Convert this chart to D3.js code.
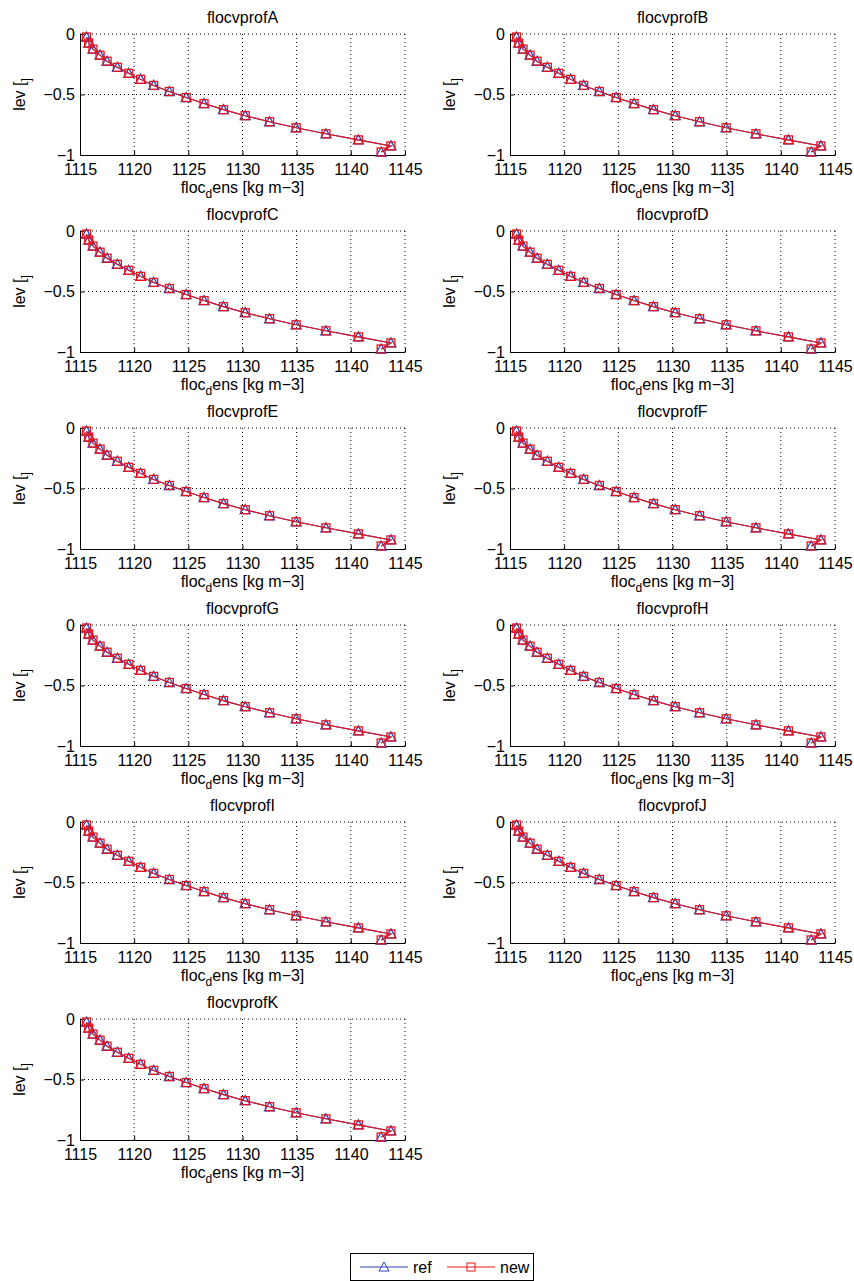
<!DOCTYPE html>
<html>
<head>
<meta charset="utf-8">
<script src="https://cdn.jsdelivr.net/npm/d3@7"></script>
<style>
  body { margin: 0; background: #fff; }
  svg { font-family: "Liberation Sans", Arial, sans-serif; }
</style>
</head>
<body>
<div id="chart"></div>
<script>
var width = 854;
var height = 1281;

var panels = ["flocvprofA", "flocvprofB", "flocvprofC", "flocvprofD", "flocvprofE",
              "flocvprofF", "flocvprofG", "flocvprofH", "flocvprofI", "flocvprofJ", "flocvprofK"];

// model levels (sigma), top to bottom
var lev = [-0.025, -0.075, -0.125, -0.175, -0.225, -0.275, -0.325, -0.375, -0.425, -0.475,
           -0.525, -0.575, -0.625, -0.675, -0.725, -0.775, -0.825, -0.875, -0.925, -0.975];

var refDens = [1115.6, 1115.8, 1116.2, 1116.85, 1117.5, 1118.45, 1119.5, 1120.6, 1121.8, 1123.25,
               1124.8, 1126.45, 1128.25, 1130.25, 1132.5, 1134.95, 1137.7, 1140.7, 1143.7, 1142.8];
var newDens = [1115.6, 1115.8, 1116.2, 1116.85, 1117.5, 1118.45, 1119.5, 1120.6, 1121.8, 1123.25,
               1124.8, 1126.45, 1128.25, 1130.25, 1132.5, 1134.95, 1137.7, 1140.7, 1143.7, 1142.8];

var xTicks = [1115, 1120, 1125, 1130, 1135, 1140, 1145];
var yTicks = [0, -0.5, -1];

var blue = "#2a44b8";
var red = "#e8141c";

var colLeft = [80, 510];
var pw = 325, ph = 121;
var rowTop = 34, rowStep = 197;

var svg = d3.select("#chart")
            .append("svg")
            .attr("width", width)
            .attr("height", height);

var x = d3.scaleLinear().domain([1115, 1145]).range([0, pw]);
var y = d3.scaleLinear().domain([-1, 0]).range([ph, 0]);

var line = d3.line()
    .x(function(d) { return x(d[0]); })
    .y(function(d) { return y(d[1]); });

function triangle(g, pts) {
    g.selectAll("path.tri")
        .data(pts)
        .enter()
        .append("path")
        .attr("class", "tri")
        .attr("d", function(d) {
            var cx = x(d[0]), cy = y(d[1]);
            return "M" + cx + "," + (cy - 5) + "L" + (cx + 5) + "," + (cy + 4) + "L" + (cx - 5) + "," + (cy + 4) + "Z";
        })
        .attr("fill", "none")
        .attr("stroke", blue)
        .attr("stroke-width", 1.3);
}

function squares(g, pts) {
    g.selectAll("rect.sq")
        .data(pts)
        .enter()
        .append("rect")
        .attr("class", "sq")
        .attr("x", function(d) { return x(d[0]) - 4; })
        .attr("y", function(d) { return y(d[1]) - 4; })
        .attr("width", 8)
        .attr("height", 8)
        .attr("fill", "none")
        .attr("stroke", red)
        .attr("stroke-width", 1.3);
}

panels.forEach(function(name, i) {
    var col = i % 2, row = Math.floor(i / 2);
    var g = svg.append("g")
        .attr("transform", "translate(" + colLeft[col] + "," + (rowTop + row * rowStep) + ")");

    // dotted grid
    g.selectAll("line.gx")
        .data(xTicks.slice(1))
        .enter()
        .append("line")
        .attr("x1", function(d) { return x(d); })
        .attr("x2", function(d) { return x(d); })
        .attr("y1", 0).attr("y2", ph)
        .attr("stroke", "#000")
        .attr("stroke-width", 1)
        .attr("stroke-dasharray", "1,3");
    g.selectAll("line.gy")
        .data(yTicks.slice(0, 2))
        .enter()
        .append("line")
        .attr("x1", 0).attr("x2", pw)
        .attr("y1", function(d) { return y(d); })
        .attr("y2", function(d) { return y(d); })
        .attr("stroke", "#000")
        .attr("stroke-width", 1)
        .attr("stroke-dasharray", "1,3");

    var xa = g.append("g")
        .attr("transform", "translate(0," + ph + ")")
        .call(d3.axisBottom(x).tickValues(xTicks).tickFormat(d3.format("d"))
              .tickSizeInner(-4).tickSizeOuter(0).tickPadding(9));
    var ya = g.append("g")
        .call(d3.axisLeft(y).tickValues(yTicks).tickFormat(d3.format("~g"))
              .tickSizeInner(-4).tickSizeOuter(0).tickPadding(5));
    [xa, ya].forEach(function(a) {
        a.attr("font-size", null).attr("font-family", null);
        a.selectAll("text").style("font-size", "16px").attr("fill", "#000");
        a.selectAll("path, line").attr("stroke", "#000");
    });

    var refPts = refDens.map(function(v, k) { return [v, lev[k]]; });
    var newPts = newDens.map(function(v, k) { return [v, lev[k]]; });

    g.append("path").attr("d", line(refPts))
        .attr("fill", "none").attr("stroke", blue).attr("stroke-width", 1.1);
    triangle(g, refPts);
    g.append("path").attr("d", line(newPts))
        .attr("fill", "none").attr("stroke", red).attr("stroke-width", 1.1);
    squares(g, newPts);

    g.append("text")
        .attr("x", pw / 2).attr("y", -11)
        .attr("text-anchor", "middle")
        .attr("font-size", "16px")
        .text(name);

    var xl = g.append("text")
        .attr("x", pw / 2).attr("y", ph + 38)
        .attr("text-anchor", "middle")
        .attr("font-size", "16px");
    xl.append("tspan").text("floc");
    xl.append("tspan").attr("dy", 5).attr("font-size", "12px").text("d");
    xl.append("tspan").attr("dy", -5).text("ens [kg m\u22123]");

    var yl = g.append("text")
        .attr("transform", "translate(-55," + (ph / 2) + ") rotate(-90)")
        .attr("text-anchor", "middle")
        .attr("font-size", "16px");
    yl.append("tspan").text("lev [");
    yl.append("tspan").attr("dy", 5).attr("font-size", "12px").text("]");
});

// legend
var lg = svg.append("g").attr("transform", "translate(350,1253)");
lg.append("rect").attr("x", 0.5).attr("y", 0.5).attr("width", 183).attr("height", 27)
    .attr("fill", "#fff").attr("stroke", "#000").attr("stroke-width", 1);
lg.append("line").attr("x1", 10).attr("x2", 58).attr("y1", 14).attr("y2", 14)
    .attr("stroke", blue);
lg.append("path").attr("d", "M34,9L39,18L29,18Z").attr("fill", "none").attr("stroke", blue);
lg.append("text").attr("x", 63).attr("y", 19.5).attr("font-size", "16px").text("ref");
lg.append("line").attr("x1", 97).attr("x2", 145).attr("y1", 14).attr("y2", 14)
    .attr("stroke", red);
lg.append("rect").attr("x", 117).attr("y", 10).attr("width", 8).attr("height", 8)
    .attr("fill", "none").attr("stroke", red);
lg.append("text").attr("x", 150).attr("y", 19.5).attr("font-size", "16px").text("new");
</script>
</body>
</html>
